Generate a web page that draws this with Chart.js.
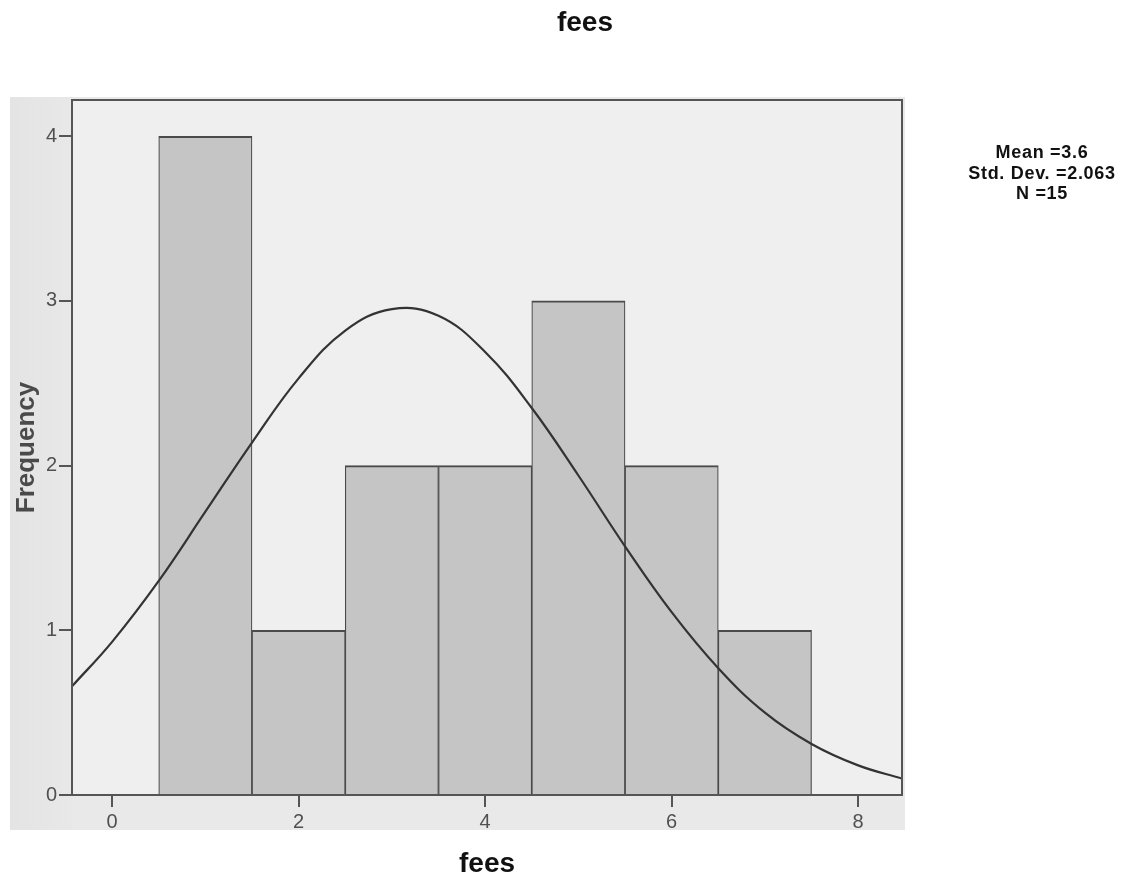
<!DOCTYPE html>
<html><head><meta charset="utf-8">
<script src="https://cdn.jsdelivr.net/npm/chart.js@4/dist/chart.umd.min.js"></script>
<style>
html,body{margin:0;padding:0;background:#fff;}
#wrap{position:relative;width:1133px;height:881px;overflow:hidden;}
canvas{position:absolute;left:0;top:0;}
.t{position:absolute;font-family:"Liberation Sans",Arial,sans-serif;font-weight:bold;color:#111;white-space:nowrap;}
</style></head><body>
<div id="wrap">
<canvas id="c" width="1133" height="881"></canvas>
<div class="t" id="title" style="left:585px;top:6px;transform:translateX(-50%);font-size:28px;"></div>
<div class="t" id="stats" style="left:1042px;top:142px;transform:translateX(-50%);font-size:18px;line-height:20.5px;text-align:center;letter-spacing:0.7px;"></div>
</div>
<script>
// ---- data ----
const chartTitle = "fees";
const xAxisTitle = "fees";
const yAxisTitle = "Frequency";
const statLines = ["Mean =3.6", "Std. Dev. =2.063", "N =15"];
const binCenters = [1, 2, 3, 4, 5, 6, 7];
const frequencies = [4, 1, 2, 2, 3, 2, 1];
const curveX = [-0.43, 0, 0.5, 1, 1.5, 2, 2.5, 3, 3.5, 4, 4.5, 5, 5.5, 6, 6.5, 7, 7.5, 8, 8.47];
const curveY = [0.66, 0.93, 1.30, 1.72, 2.14, 2.53, 2.82, 2.95, 2.91, 2.69, 2.35, 1.94, 1.51, 1.11, 0.77, 0.50, 0.31, 0.18, 0.10];
const xTickValues = [0, 2, 4, 6, 8];
const yTickValues = [0, 1, 2, 3, 4];

document.getElementById('title').textContent = chartTitle;
document.getElementById('stats').innerHTML = statLines.map(s => s.replace(/&/g,'&amp;').replace(/</g,'&lt;')).join('<br>');

Chart.defaults.font.family = '"Liberation Sans", Arial, sans-serif';

const bgPlugin = {
  id: 'bg',
  beforeDraw(chart) {
    const {ctx, chartArea: a} = chart;
    ctx.save();
    ctx.fillStyle = '#e9e9e9';
    ctx.fillRect(10, 97, 895, 733);
    const g = ctx.createLinearGradient(10, 0, a.left, 0);
    g.addColorStop(0, '#e4e4e4');
    g.addColorStop(1, '#e8e8e8');
    ctx.fillStyle = g;
    ctx.fillRect(10, 97, a.left - 10, 733);
    ctx.fillStyle = '#efefef';
    ctx.fillRect(a.left, a.top, a.right - a.left, a.bottom - a.top);
    ctx.restore();
  },
  afterDraw(chart) {
    const {ctx, chartArea: a} = chart;
    ctx.save();
    ctx.strokeStyle = '#555';
    ctx.lineWidth = 2;
    ctx.strokeRect(a.left, a.top, a.right - a.left, a.bottom - a.top);
    ctx.restore();
  }
};

new Chart(document.getElementById('c'), {
  type: 'bar',
  data: {
    datasets: [
      {
        type: 'line',
        data: curveX.map((x, i) => ({x, y: curveY[i]})),
        borderColor: '#333',
        borderWidth: 2.2,
        pointRadius: 0,
        tension: 0.4,
        fill: false,
        order: 0
      },
      {
        type: 'bar',
        data: binCenters.map((x, i) => ({x, y: frequencies[i]})),
        backgroundColor: '#c5c5c5',
        borderColor: '#4a4a4a',
        borderWidth: {top: 2, left: 1.2, right: 1.2, bottom: 0},
        borderSkipped: false,
        barPercentage: 1,
        categoryPercentage: 1,
        grouped: false,
        order: 1
      }
    ]
  },
  options: {
    responsive: false,
    animation: false,
    events: [],
    layout: {padding: {left: 0, top: 100, right: 231, bottom: 0}},
    plugins: {legend: {display: false}, tooltip: {enabled: false}, title: {display: false}},
    scales: {
      x: {
        type: 'linear',
        offset: false,
        min: -0.43,
        max: 8.47,
        afterBuildTicks: s => { s.ticks = xTickValues.map(v => ({value: v})); },
        afterFit: s => { s.height = 86; },
        ticks: {font: {size: 20}, color: '#505050', padding: 3, maxRotation: 0, autoSkip: false},
        grid: {offset: false, drawOnChartArea: false, drawTicks: true, tickLength: 12, color: '#555', lineWidth: 2},
        border: {display: true, color: '#555', width: 2},
        title: {display: true, text: xAxisTitle, font: {size: 28, weight: 'bold'}, color: '#111', padding: {top: 0, bottom: 0}}
      },
      y: {
        type: 'linear',
        min: 0,
        max: 4.22,
        afterBuildTicks: s => { s.ticks = yTickValues.map(v => ({value: v})); },
        afterFit: s => { s.width = 72; },
        ticks: {font: {size: 20}, color: '#505050', padding: 2, autoSkip: false},
        grid: {drawOnChartArea: false, drawTicks: true, tickLength: 13, color: '#555', lineWidth: 2},
        border: {display: true, color: '#555', width: 2},
        title: {display: true, text: yAxisTitle, font: {size: 26, weight: 'bold'}, color: '#4a4a4a', padding: {top: 11, bottom: 0}}
      }
    }
  },
  plugins: [bgPlugin]
});
</script>
</body></html>
